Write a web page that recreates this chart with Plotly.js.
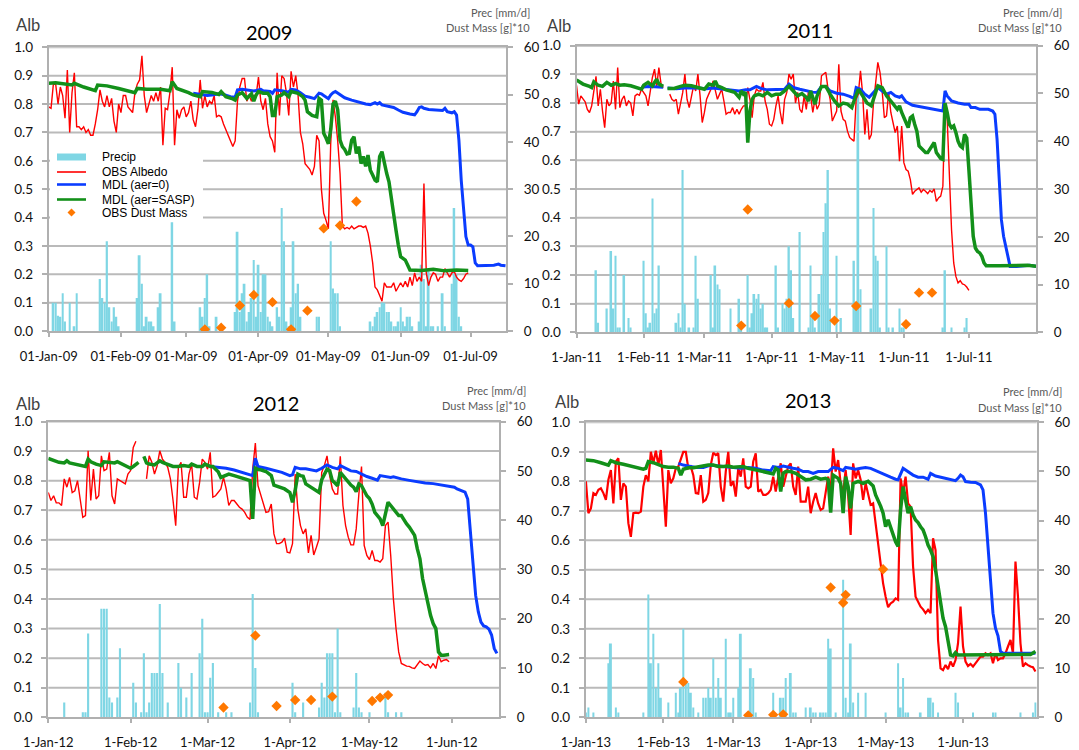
<!DOCTYPE html>
<html><head><meta charset="utf-8">
<script src="https://cdn.plot.ly/plotly-3.0.1.min.js"></script>
<style>html,body{margin:0;padding:0;background:#fff;} #chart{width:1079px;height:750px;}</style>
</head><body><div id="chart"></div>
<script>
// ===================== DATA =====================
// Daily observed albedo (index = day offset from 1 Jan)
const obs2009 = [0.79,0.785,0.87,0.87,0.80,0.86,0.83,0.75,0.92,0.70,
0.84,0.91,0.72,0.72,0.71,0.72,0.70,0.71,0.69,0.69,
0.73,0.78,0.85,0.81,0.79,0.83,0.79,0.82,0.74,0.70,
0.80,0.77,0.83,0.83,0.79,0.78,0.77,0.84,0.87,0.885,
0.97,0.83,0.77,0.80,0.83,0.81,0.84,0.81,0.86,0.655,
0.785,0.78,0.84,0.93,0.655,0.78,0.75,0.78,0.79,0.755,
0.77,0.81,0.745,0.72,0.78,0.885,0.785,0.83,0.79,0.81,
0.80,0.83,0.755,0.76,0.755,0.73,0.71,0.69,0.67,0.65,
0.67,0.81,0.86,0.89,0.89,0.81,0.83,0.81,0.83,0.83,
0.895,0.81,0.78,0.82,0.73,0.685,0.67,0.63,0.91,0.76,
0.90,0.89,0.84,0.76,0.915,0.86,0.90,0.83,0.70,0.66,
0.59,0.58,0.57,0.55,0.58,0.69,0.67,0.50,0.415,0.39,
0.36,0.66,0.815,0.755,0.67,0.555,0.37,0.36,0.365,0.36,
0.37,0.36,0.365,0.37,0.37,0.365,0.37,0.345,0.30,0.24,
0.155,0.145,0.125,0.105,0.17,0.155,0.155,0.155,0.17,0.14,
0.155,0.17,0.155,0.175,0.155,0.19,0.16,0.205,0.175,0.19,
0.175,0.52,0.205,0.16,0.19,0.205,0.20,0.175,0.19,0.19,
0.22,0.205,0.19,0.205,0.21,0.19,0.18,0.175,0.185,0.20,
0.205];
const obs2011 = [0.862,0.796,0.825,0.813,0.804,0.778,0.767,0.79,0.837,0.893,
0.79,0.848,0.772,0.714,0.813,0.79,0.80,0.877,0.778,0.924,
0.784,0.813,0.825,0.79,0.807,0.80,0.755,0.825,0.831,0.827,
0.848,0.837,0.825,0.79,0.842,0.889,0.918,0.86,0.924,0.866,
0.854,null,null,0.831,0.813,0.807,0.813,0.761,0.80,0.837,
0.901,0.813,0.784,0.825,0.86,0.842,0.901,0.825,0.732,0.767,
0.813,0.831,0.848,0.877,0.842,0.813,0.831,0.848,0.807,0.761,
0.767,0.767,0.784,0.761,0.778,0.761,0.778,0.79,0.79,0.854,
0.813,0.749,0.825,0.848,0.842,0.842,0.872,0.807,0.778,0.726,
0.72,0.743,0.79,0.825,0.767,0.726,0.813,0.837,0.901,0.883,
0.901,0.80,0.837,0.778,0.767,0.825,0.778,0.842,0.825,0.767,
0.813,0.778,0.796,0.895,0.901,0.907,0.851,0.813,0.737,0.755,
0.772,0.935,0.772,0.743,0.737,0.702,0.68,0.673,0.667,0.813,
0.831,0.912,0.831,0.69,0.778,0.673,0.69,0.80,0.877,0.942,
0.907,0.842,0.749,0.755,0.837,0.767,0.732,0.697,0.72,0.597,
0.72,0.592,0.568,0.562,0.533,0.481,0.492,0.498,0.504,0.489,
0.498,0.492,0.484,0.495,0.489,0.50,0.457,0.469,0.475,0.51,
0.80,0.743,0.557,0.358,0.242,0.195,0.172,0.18,0.169,0.166,
0.158,0.146];
const obs2012 = [0.76,0.733,0.749,0.725,0.725,0.716,0.806,0.778,0.811,0.76,
0.766,0.80,0.738,0.676,0.682,0.901,0.733,0.839,0.738,0.749,
0.884,0.834,0.839,0.896,0.749,0.721,0.806,0.80,0.794,0.789,
0.822,0.834,0.912,0.933,null,null,null,0.806,0.884,0.862,
0.822,0.85,0.901,0.873,0.862,0.845,0.806,0.733,0.648,0.845,
0.862,0.744,0.744,0.822,0.856,0.744,0.738,0.794,0.873,0.862,
0.839,0.896,0.744,0.749,0.76,0.772,0.811,0.772,0.716,0.733,
0.733,0.721,0.71,0.704,0.693,0.676,0.669,0.839,0.927,0.783,
0.755,0.727,0.693,0.695,0.721,0.62,0.587,0.587,0.592,0.606,
0.558,0.556,0.587,0.822,0.704,0.648,0.62,0.637,0.556,0.615,
0.549,0.575,0.603,0.828,0.851,0.884,0.817,0.772,0.755,0.755,
0.882,0.716,0.648,0.609,0.583,0.583,0.637,0.755,0.848,0.581,
0.547,0.533,0.564,0.53,0.53,0.525,0.536,0.648,0.66,0.547,
0.401,0.30,0.221,0.182,0.176,0.173,0.172,0.167,0.165,0.176,
0.19,0.182,0.176,0.178,0.167,0.182,0.165,0.208,0.188,0.193,
0.195,0.188];
const obs2013 = [0.80,0.692,0.708,0.76,0.754,0.771,0.776,0.76,0.737,0.805,
0.838,0.725,0.867,0.878,0.737,0.793,0.782,0.658,0.612,0.692,
0.694,0.692,0.697,0.782,0.821,0.80,0.90,0.861,0.904,0.855,
0.906,0.765,0.646,0.838,0.793,0.81,0.844,0.85,0.872,0.90,
0.90,0.844,0.85,0.821,0.76,0.758,0.821,0.731,0.737,0.76,
0.855,0.897,0.889,0.895,0.782,0.731,0.833,0.90,0.784,0.80,
0.748,0.844,0.816,0.878,0.782,0.776,0.782,0.867,0.895,0.765,
0.771,0.754,0.754,0.76,0.771,0.816,0.765,0.821,0.861,0.782,
0.816,0.85,0.861,0.782,0.754,0.85,0.731,0.731,0.731,0.782,
0.692,0.731,0.76,0.725,0.703,0.708,0.771,0.816,0.765,0.912,
0.833,0.872,0.793,0.76,0.838,0.754,0.618,0.861,0.81,0.838,
0.805,0.737,0.793,0.754,0.72,0.725,0.652,0.59,0.511,0.454,
0.409,0.373,0.386,0.392,0.403,0.398,0.81,0.76,0.816,0.725,
0.714,0.511,0.409,0.392,0.375,0.366,0.353,0.364,0.353,0.607,
0.567,0.262,0.166,0.16,0.177,0.163,0.189,0.172,0.194,0.251,
0.375,0.24,0.189,0.174,0.181,0.172,0.183,0.194,0.206,0.206,
0.217,0.211,0.217,0.183,0.217,0.194,0.2,0.2,0.217,0.24,
0.262,0.217,0.528,0.409,0.251,0.172,0.183,0.177,0.172,0.17,
0.155];

// Modelled albedo, [day offset, albedo]
const sasp2009 = [[0,0.873],[3,0.875],[10,0.867],[11,0.873],[15,0.86],[20,0.847],[21,0.867],[25,0.864],[30,0.855],[35,0.844],[37,0.84],[38,0.855],[42,0.852],[48,0.852],[52,0.847],[53,0.879],[55,0.855],[60,0.84],[62,0.832],[65,0.826],[66,0.844],[70,0.841],[73,0.834],[74,0.844],[76,0.826],[79,0.818],[80,0.814],[81,0.832],[83,0.84],[85,0.82],[87,0.836],[88,0.81],[89,0.832],[90,0.844],[92,0.838],[94,0.838],[95,0.826],[96,0.76],[97,0.76],[98,0.826],[100,0.832],[101,0.84],[103,0.826],[104,0.844],[106,0.84],[107,0.838],[109,0.826],[110,0.814],[111,0.773],[113,0.76],[115,0.755],[116,0.82],[117,0.814],[118,0.697],[119,0.68],[120,0.66],[121,0.71],[122,0.80],[123,0.81],[124,0.78],[125,0.673],[126,0.65],[127,0.64],[128,0.624],[129,0.626],[130,0.673],[131,0.685],[132,0.626],[133,0.65],[134,0.59],[135,0.615],[136,0.58],[137,0.62],[138,0.567],[139,0.55],[140,0.532],[141,0.526],[142,0.615],[143,0.632],[144,0.59],[145,0.556],[146,0.526],[147,0.462],[148,0.415],[149,0.356],[150,0.303],[151,0.262],[152,0.256],[153,0.25],[154,0.233],[155,0.215],[160,0.213],[165,0.218],[170,0.212],[175,0.215],[180,0.213]];
const mdl0_2009 = [[62,0.838],[65,0.833],[68,0.83],[70,0.832],[73,0.836],[75,0.834],[78,0.826],[80,0.824],[81,0.85],[83,0.852],[86,0.847],[88,0.846],[90,0.85],[91,0.852],[92,0.847],[95,0.844],[96,0.838],[97,0.85],[100,0.847],[103,0.842],[104,0.852],[106,0.85],[108,0.84],[110,0.828],[112,0.824],[114,0.819],[116,0.838],[117,0.836],[118,0.83],[120,0.819],[121,0.832],[122,0.84],[123,0.844],[125,0.832],[127,0.822],[130,0.814],[133,0.806],[136,0.80],[138,0.798],[140,0.805],[141,0.80],[142,0.805],[143,0.797],[145,0.793],[147,0.79],[148,0.788],[150,0.779],[152,0.771],[155,0.765],[157,0.762],[158,0.773],[159,0.788],[160,0.79],[161,0.785],[163,0.781],[166,0.779],[169,0.777],[170,0.785],[171,0.773],[173,0.769],[174,0.773],[175,0.761],[176,0.673],[177,0.532],[178,0.415],[179,0.333],[180,0.303],[181,0.303],[182,0.297],[183,0.24],[184,0.23],[188,0.23],[191,0.232],[193,0.236],[194,0.232],[196,0.23]];
const sasp2011 = [[0,0.88],[3,0.866],[6,0.858],[7,0.854],[8,0.874],[10,0.862],[12,0.858],[14,0.872],[16,0.862],[18,0.868],[20,0.862],[22,0.864],[25,0.86],[28,0.854],[30,0.848],[31,0.862],[33,0.872],[35,0.86],[37,0.883],[38,0.866],[40,0.858],[41,null],[42,0.851],[45,0.851],[48,0.858],[50,0.862],[53,0.86],[56,0.854],[59,0.848],[61,0.866],[63,0.862],[64,0.877],[65,0.86],[67,0.854],[69,0.846],[71,0.842],[73,0.837],[75,0.82],[76,0.842],[77,0.831],[78,0.837],[79,0.662],[80,0.772],[81,0.813],[82,0.825],[84,0.831],[86,0.825],[88,0.837],[90,0.825],[92,0.831],[94,0.831],[96,0.842],[98,0.858],[100,0.842],[102,0.825],[104,0.833],[106,0.82],[107,0.807],[108,0.842],[110,0.796],[111,0.825],[113,0.858],[115,0.858],[117,0.831],[119,0.807],[121,0.79],[123,0.80],[125,0.796],[127,0.784],[128,0.807],[130,0.848],[132,0.825],[134,0.80],[136,0.79],[138,0.842],[139,0.86],[141,0.854],[143,0.825],[145,0.807],[147,0.784],[148,0.778],[149,0.79],[150,0.767],[152,0.732],[153,0.714],[154,0.749],[155,0.755],[156,0.726],[157,0.702],[158,0.65],[159,0.641],[160,0.635],[161,0.627],[162,0.627],[163,0.638],[164,0.65],[165,0.662],[166,0.627],[167,0.615],[168,0.606],[169,0.603],[170,0.80],[171,0.767],[172,0.726],[173,0.714],[174,0.72],[175,0.697],[176,0.667],[177,0.65],[178,0.644],[179,0.69],[180,0.678],[181,0.568],[182,0.44],[183,0.335],[184,0.294],[185,0.282],[186,0.277],[187,0.265],[188,0.242],[189,0.232],[195,0.232],[200,0.233],[205,0.232],[208,0.234],[212,0.23]];
const mdl0_2011 = [[30,0.855],[33,0.858],[36,0.857],[40,0.855],[41,null],[42,0.852],[46,0.85],[50,0.852],[55,0.853],[60,0.85],[63,0.852],[66,0.85],[70,0.846],[73,0.842],[75,0.842],[78,0.846],[80,0.846],[83,0.858],[85,0.851],[88,0.846],[90,0.846],[93,0.846],[96,0.848],[98,0.866],[100,0.854],[103,0.848],[106,0.842],[109,0.838],[111,0.837],[113,0.858],[115,0.858],[117,0.842],[120,0.834],[123,0.831],[126,0.823],[128,0.816],[129,0.854],[131,0.848],[133,0.831],[135,0.82],[137,0.837],[139,0.854],[141,0.842],[143,0.831],[145,0.837],[147,0.825],[149,0.82],[150,0.825],[152,0.804],[155,0.792],[158,0.788],[161,0.783],[164,0.778],[167,0.775],[169,0.772],[170,0.842],[171,0.825],[173,0.807],[176,0.80],[179,0.796],[181,0.796],[182,0.784],[184,0.784],[186,0.778],[188,0.778],[190,0.778],[192,0.772],[193,0.761],[194,0.673],[195,0.533],[196,0.393],[197,0.335],[198,0.30],[199,0.271],[200,0.23],[203,0.23],[206,0.232],[209,0.234],[212,0.23]];
const sasp2012 = [[0,0.875],[2,0.867],[4,0.862],[6,0.86],[7,0.867],[8,0.86],[10,0.855],[12,0.853],[14,0.848],[15,0.873],[16,0.864],[18,0.856],[20,0.851],[21,0.864],[23,0.862],[25,0.86],[26,0.864],[28,0.856],[30,0.848],[31,0.842],[32,0.848],[33,0.856],[34,0.862],[35,null],[36,0.882],[37,0.86],[38,0.856],[40,0.853],[41,0.86],[42,0.867],[43,0.862],[45,0.856],[47,0.848],[49,0.848],[51,0.851],[53,0.848],[54,0.856],[56,0.848],[58,0.848],[59,0.856],[61,0.848],[62,0.848],[64,0.83],[65,0.811],[67,0.819],[68,0.822],[70,0.817],[72,0.811],[74,0.808],[76,0.80],[77,0.671],[78,0.842],[79,0.838],[80,0.837],[82,0.831],[84,0.817],[85,0.785],[87,0.778],[89,0.772],[91,0.76],[92,0.727],[93,0.766],[94,0.822],[95,0.817],[96,0.815],[97,0.789],[99,0.778],[101,0.766],[102,0.76],[103,0.803],[104,0.822],[105,0.839],[106,0.834],[107,0.80],[108,0.792],[109,0.783],[110,0.828],[111,0.817],[112,0.806],[113,0.794],[114,0.785],[115,0.778],[116,0.763],[117,0.789],[118,0.783],[119,0.766],[120,0.749],[121,0.74],[122,0.721],[123,0.693],[124,0.682],[125,0.671],[126,0.648],[127,0.693],[128,0.727],[129,0.716],[130,0.704],[131,0.693],[132,0.682],[133,0.682],[134,0.665],[135,0.654],[136,0.643],[137,0.631],[138,0.615],[139,0.57],[140,0.536],[141,0.469],[142,0.424],[143,0.379],[144,0.345],[145,0.317],[146,0.30],[147,0.221],[148,0.21],[149,0.21],[150,0.21],[151,0.212]];
const mdl0_2012 = [[61,0.848],[64,0.845],[67,0.842],[70,0.836],[73,0.828],[76,0.822],[77,0.817],[78,0.876],[79,0.848],[82,0.842],[85,0.836],[88,0.828],[91,0.817],[92,0.82],[93,0.845],[95,0.84],[97,0.84],[99,0.836],[101,0.833],[103,0.842],[105,0.853],[107,0.845],[109,0.84],[110,0.851],[112,0.842],[114,0.833],[116,0.831],[118,0.822],[120,0.814],[122,0.808],[124,0.802],[125,0.817],[127,0.815],[129,0.811],[130,0.813],[132,0.808],[133,0.806],[136,0.801],[139,0.796],[142,0.792],[145,0.79],[148,0.786],[151,0.781],[153,0.778],[154,0.772],[156,0.766],[157,0.761],[158,0.738],[159,0.637],[160,0.513],[161,0.412],[162,0.356],[163,0.322],[164,0.309],[165,0.306],[166,0.298],[167,0.278],[168,0.233],[169,0.216]];
const sasp2013 = [[0,0.872],[3,0.87],[6,0.863],[9,0.855],[10,0.87],[12,0.863],[15,0.858],[18,0.852],[21,0.846],[23,0.841],[24,0.844],[25,0.867],[27,0.863],[29,0.855],[31,0.85],[33,0.848],[35,0.848],[37,0.844],[38,0.821],[39,0.841],[41,0.846],[43,0.846],[45,0.85],[47,0.852],[49,0.855],[51,0.855],[53,0.85],[55,0.85],[57,0.852],[59,0.848],[61,0.848],[63,0.85],[65,0.844],[67,0.841],[69,0.836],[71,0.833],[73,0.829],[75,0.825],[76,0.844],[77,0.838],[78,0.765],[79,0.827],[80,0.833],[82,0.833],[84,0.827],[86,0.816],[88,0.805],[90,0.807],[92,0.814],[94,0.807],[96,0.81],[97,0.805],[98,0.694],[99,0.821],[100,0.815],[101,0.81],[102,0.793],[103,0.692],[104,0.816],[105,0.782],[106,0.708],[107,0.793],[109,0.80],[111,0.793],[113,0.80],[115,0.784],[116,0.754],[117,0.737],[118,0.716],[119,0.692],[120,0.646],[121,0.669],[122,0.641],[123,0.618],[124,0.595],[125,0.579],[126,0.703],[127,0.782],[128,0.737],[129,0.692],[130,0.714],[131,0.686],[132,0.669],[133,0.66],[134,0.646],[135,0.635],[136,0.612],[137,0.584],[138,0.567],[139,0.545],[140,0.499],[141,0.443],[142,0.386],[143,0.336],[144,0.307],[145,0.262],[146,0.211],[147,0.208],[148,0.219],[149,0.211],[150,0.211],[155,0.213],[160,0.213],[165,0.212],[170,0.213],[175,0.213],[178,0.213],[180,0.223]];
const mdl0_2013 = [[37,0.861],[39,0.855],[41,0.852],[44,0.847],[47,0.847],[50,0.855],[53,0.852],[56,0.85],[59,0.847],[62,0.844],[65,0.847],[68,0.844],[71,0.838],[74,0.836],[75,0.85],[77,0.847],[79,0.852],[81,0.847],[83,0.844],[85,0.841],[87,0.833],[89,0.833],[91,0.827],[93,0.833],[95,0.833],[97,0.833],[99,0.847],[101,0.844],[103,0.836],[104,0.847],[106,0.844],[108,0.841],[110,0.844],[112,0.847],[114,0.844],[116,0.836],[118,0.829],[120,0.822],[122,0.814],[124,0.807],[125,0.805],[127,0.844],[129,0.833],[131,0.821],[133,0.814],[135,0.814],[137,0.807],[138,0.827],[140,0.818],[142,0.814],[144,0.81],[146,0.807],[148,0.802],[149,0.81],[150,0.821],[151,0.815],[152,0.799],[154,0.797],[156,0.796],[158,0.788],[159,0.771],[160,0.692],[161,0.567],[162,0.454],[163,0.353],[164,0.302],[165,0.276],[166,0.223],[167,0.217],[170,0.217],[175,0.217],[180,0.217]];

// Precipitation [mm/d], [day offset, value]
const prec2009 = [[2,6],[3,6],[4,3.2],[5,3],[6,8],[7,2],[9,6],[11,1],[12,8],[22,11],[23,7],[24,6],[25,19],[26,5],[27,2],[28,5],[29,3],[30,1],[38,7],[39,16],[40,10],[41,1],[42,3],[43,2],[44,2],[45,1],[47,5],[48,8],[53,23],[54,2],[65,5],[66,3],[67,7],[68,12],[69,1],[72,3],[80,4],[81,21],[82,4],[83,8],[84,10],[85,2],[86,4],[87,7],[88,15],[89,3],[90,14],[91,4],[92,12],[93,12],[94,3],[95,2],[96,1],[98,5],[99,3],[100,26],[101,19],[102,2],[103,1],[104,5],[105,19],[106,8],[107,10],[108,3],[115,3],[116,3],[121,19],[122,9],[123,8],[124,8],[125,1],[138,2],[139,1],[140,3],[141,4],[142,5],[143,6],[144,6],[145,4],[146,4],[147,2],[148,1],[149,1],[150,2],[151,5],[152,2],[153,1],[154,3],[155,3],[156,1],[159,2],[160,14],[161,11],[162,1],[163,13],[164,1],[165,1],[167,1],[169,8],[170,1],[173,10],[174,26],[175,12],[176,3],[177,1]];
const prec2011 = [[9,13],[10,2],[14,5],[16,17],[17,5],[18,16],[19,1],[20,1],[22,12],[24,3],[25,1],[31,15],[32,4],[33,1],[34,2],[35,28],[36,4],[37,5],[38,14],[46,2],[47,4],[48,1],[49,34],[50,6],[52,1],[54,1],[55,16],[56,7],[62,12],[63,1],[64,14],[65,10],[66,9],[71,5],[75,7],[76,1],[79,12],[80,1],[81,4],[82,8],[83,7],[84,8],[85,5],[86,6],[87,1],[88,1],[92,14],[93,1],[95,6],[96,5],[97,7],[98,18],[99,13],[100,3],[103,21],[107,1],[108,14],[109,3],[110,1],[112,8],[113,12],[114,21],[115,27],[116,34],[117,5],[120,16],[122,3],[128,15],[129,5],[130,50],[131,9],[136,5],[137,26],[138,16],[139,15],[140,1],[143,18],[144,1],[146,1],[149,5],[150,1],[151,1],[169,1],[170,13],[173,1],[179,1],[180,3]];
const prec2012 = [[6,3],[13,1],[14,1],[15,17],[20,22],[21,22],[22,22],[23,4],[24,3],[26,4],[27,14],[32,7],[33,3],[35,1],[36,13],[37,1],[38,3],[39,9],[40,9],[41,9],[42,23],[43,9],[45,3],[49,11],[50,6],[52,4],[54,9],[57,13],[58,20],[59,1],[60,1],[61,8],[62,11],[64,1],[67,1],[69,1],[76,3],[77,25],[78,10],[79,1],[92,7],[93,1],[96,3],[102,2],[103,7],[104,4],[105,13],[106,13],[107,13],[108,1],[109,18],[110,1],[115,2],[116,9],[117,2],[118,1],[121,1],[127,5],[128,1],[131,1],[133,1]];
const prec2013 = [[0,1],[1,2],[3,1],[9,11],[10,15],[12,2],[13,1],[23,1],[25,25],[26,11],[27,17],[28,6],[29,11],[30,4],[33,3],[36,5],[37,1],[38,6],[39,18],[40,7],[41,7],[42,5],[43,2],[45,1],[47,4],[48,4],[49,6],[50,4],[51,12],[52,4],[53,8],[54,4],[56,16],[57,1],[58,1],[59,4],[61,6],[62,17],[65,1],[66,10],[67,8],[68,1],[75,5],[78,4],[79,4],[80,8],[82,9],[83,1],[84,1],[88,2],[90,2],[91,1],[92,1],[94,1],[95,1],[96,1],[97,16],[98,14],[100,1],[103,28],[104,4],[105,1],[106,15],[107,3],[109,5],[112,5],[120,1],[125,11],[126,2],[127,8],[128,1],[129,1],[134,1],[137,4],[138,4],[139,3],[141,1],[148,5],[149,3],[155,1],[163,1],[164,1],[174,1],[179,1],[180,3]];

// Observed dust mass [g]*10, [day offset, value]
const dust2009 = [[67,0.35],[74,0.7],[82,5.4],[88,7.6],[96,6.1],[104,0.35],[111,4.3],[118,21.7],[125,22.3],[132,27.4]];
const dust2011 = [[76,1.4],[79,25.7],[98,6.1],[110,3.4],[119,2.45],[129,5.5],[152,1.7],[158,8.3],[164,8.3]];
const dust2012 = [[66,2.0],[78,16.6],[86,2.3],[93,3.5],[99,3.5],[107,4.2],[122,3.3],[125,4.0],[128,4.5]];
const dust2013 = [[39,7.2],[65,0.4],[75,0.5],[79,0.6],[98,26.4],[103,23.3],[104,24.9],[119,30.1]];

const panelYears = [2009, 2011, 2012, 2013];
const seriesNames = ['Precip','OBS Albedo','MDL (aer=0)','MDL (aer=SASP)','OBS Dust Mass'];
const albGridValues = [0.1,0.2,0.3,0.4,0.5,0.6,0.7,0.8,0.9,1.0];
const axisTitleLeft = 'Alb';
const axisTitleRight = ['Prec [mm/d]','Dust Mass [g]*10'];

// ===================== BUILD =====================
const W = 1079, H = 750;
const px = x => x / W, py = y => 1 - y / H;
function dt(year, day) {
  const d = new Date(Date.UTC(year, 0, 1) + Math.round(day * 86400000));
  return d.toISOString().slice(0, 19).replace('T', ' ');
}
const fromDaily = (year, vals) => ({x: vals.map((v, i) => dt(year, i)), y: vals});
const fromPairs = (year, arr) => ({x: arr.map(p => dt(year, p[0])), y: arr.map(p => p[1])});

const data = [
  {obs: obs2009, mdl0: mdl0_2009, sasp: sasp2009, prec: prec2009, dust: dust2009},
  {obs: obs2011, mdl0: mdl0_2011, sasp: sasp2011, prec: prec2011, dust: dust2011},
  {obs: obs2012, mdl0: mdl0_2012, sasp: sasp2012, prec: prec2012, dust: dust2012},
  {obs: obs2013, mdl0: mdl0_2013, sasp: sasp2013, prec: prec2013, dust: dust2013}
];

const geom = [
  {x:[48.7,506], y:[47.3,331], end:'2009-07-16 05:00', fmt:'%d-%b-%y', title:[269,32], alb:[13.5,25], prec:[532,13,28], red:1.4},
  {x:[576.5,1036], y:[45.7,332.3], end:'2011-07-31 23:00', fmt:'%-d-%b-%y', title:[810,30], alb:[544.5,26], prec:[1064,12,27], red:1.4},
  {x:[48.3,499], y:[421.5,717.3], end:'2012-06-18 19:00', fmt:'%-d-%b-%y', title:[276,403], alb:[13.5,404], prec:[528,390,405], red:1.4},
  {x:[585.9,1036.7], y:[422.3,717.3], end:'2013-06-30 12:00', fmt:'%-d-%b-%y', title:[808,400], alb:[553,402], prec:[1064,392,407], red:2.2}
];

const C = {prec:'#7fd6e4', red:'#ff0000', blue:'#0a3cff', green:'#13901a', dust:'#ff7800', grid:'#bababa', axis:'#b0b0b0'};
const tickFont = {family:'Lato, "Liberation Sans", sans-serif', size:13.5, color:'#111'};
const xTickFont = {family:'Lato, "Liberation Sans", sans-serif', size:13, color:'#111'};

const traces = [];
const layout = {
  width: W, height: H, margin: {l:0, r:0, t:0, b:0},
  paper_bgcolor: '#ffffff', plot_bgcolor: 'rgba(0,0,0,0)', showlegend: false,
  annotations: [], shapes: [], font: {family:'Lato, sans-serif'}
};

panelYears.forEach((year, k) => {
  const g = geom[k], d = data[k];
  const xs = k === 0 ? '' : String(k + 1);
  const nB = 3 * k + 1, nA = 3 * k + 2, nD = 3 * k + 3;
  const yid = n => 'y' + (n === 1 ? '' : n);
  const ykey = n => 'yaxis' + (n === 1 ? '' : n);
  const xid = 'x' + xs;

  layout['xaxis' + xs] = {
    domain: [px(g.x[0]), px(g.x[1])], anchor: yid(nB), type: 'date',
    range: [year + '-01-01', g.end], tick0: year + '-01-01', dtick: 'M1',
    tickformat: g.fmt, tickangle: 0, ticks: 'outside', ticklen: 4, tickcolor: C.axis, tickwidth: 1.5,
    showline: true, linecolor: C.axis, linewidth: 2, mirror: true, showgrid: false, zeroline: false,
    tickfont: xTickFont, ticklabelstandoff: 8, fixedrange: true
  };
  layout[ykey(nB)] = {
    domain: [py(g.y[1]), py(g.y[0])], anchor: xid, side: 'right', range: [0, 60],
    tick0: 0, dtick: 10, showgrid: false, zeroline: false, showline: true, linecolor: C.axis, linewidth: 2,
    ticks: 'outside', ticklen: 5, tickcolor: C.axis, tickwidth: 1.5, tickfont: tickFont, ticklabelstandoff: 8, fixedrange: true
  };
  layout[ykey(nA)] = {
    overlaying: yid(nB), anchor: xid, side: 'left', range: [0, 1], tick0: 0, dtick: 0.1,
    tickformat: '.1f', showgrid: false, zeroline: false,
    showline: true, linecolor: C.axis, linewidth: 2, ticks: 'outside', ticklen: 5, tickcolor: C.axis, tickwidth: 1.5,
    tickfont: tickFont, ticklabelstandoff: 6, fixedrange: true
  };
  layout[ykey(nD)] = {overlaying: yid(nB), anchor: xid, range: [0, 60], visible: false, fixedrange: true};

  // horizontal albedo gridlines, placed on the albedo axis
  albGridValues.forEach(v => layout.shapes.push({type:'line', xref: xid + ' domain', yref: yid(nA),
    x0: 0, x1: 1, y0: v, y1: v, line: {color: C.grid, width: 2}, layer: 'below'}));

  const p = fromPairs(year, d.prec);
  traces.push({type:'bar', name: seriesNames[0], x: p.x, y: p.y, width: 0.8 * 86400000,
    marker: {color: C.prec, line: {width: 0}}, xaxis: xid, yaxis: yid(nB), hoverinfo: 'skip'});
  const o = fromDaily(year, d.obs);
  traces.push({type:'scatter', mode:'lines', name: seriesNames[1], x: o.x, y: o.y, connectgaps: false,
    line: {color: C.red, width: g.red}, xaxis: xid, yaxis: yid(nA), hoverinfo: 'skip'});
  const b = fromPairs(year, d.mdl0);
  traces.push({type:'scatter', mode:'lines', name: seriesNames[2], x: b.x, y: b.y, connectgaps: false,
    line: {color: C.blue, width: 3}, xaxis: xid, yaxis: yid(nA), hoverinfo: 'skip'});
  const s = fromPairs(year, d.sasp);
  traces.push({type:'scatter', mode:'lines', name: seriesNames[3], x: s.x, y: s.y, connectgaps: false,
    line: {color: C.green, width: 3.5}, xaxis: xid, yaxis: yid(nA), hoverinfo: 'skip'});
  const du = fromPairs(year, d.dust);
  traces.push({type:'scatter', mode:'markers', name: seriesNames[4], x: du.x, y: du.y,
    marker: {symbol: 'diamond', size: 8, color: C.dust}, xaxis: xid, yaxis: yid(nD), hoverinfo: 'skip'});

  // texts
  layout.annotations.push({text: String(year), xref:'paper', yref:'paper', x: px(g.title[0]), y: py(g.title[1]),
    xanchor:'center', yanchor:'middle', showarrow:false, font:{family:'Lato, sans-serif', size:20, color:'#000'}});
  layout.annotations.push({text: axisTitleLeft, xref:'paper', yref:'paper', x: px(g.alb[0]), y: py(g.alb[1]),
    xanchor:'left', yanchor:'middle', showarrow:false, font:{family:'Lato, sans-serif', size:16.5, color:'#404040'}});
  layout.annotations.push({text: axisTitleRight[0], xref:'paper', yref:'paper', x: px(g.prec[0]), y: py(g.prec[1]),
    xanchor:'right', yanchor:'middle', showarrow:false, font:{family:'Lato, sans-serif', size:11, color:'#595959'}});
  layout.annotations.push({text: axisTitleRight[1], xref:'paper', yref:'paper', x: px(g.prec[0]), y: py(g.prec[2]),
    xanchor:'right', yanchor:'middle', showarrow:false, font:{family:'Lato, sans-serif', size:11, color:'#595959'}});
});

// Legend (panel 2009), drawn as a boxed key with real text
(function legend() {
  const box = {l: 50, r: 203, t: 147, b: 219};
  const sx0 = 57, sx1 = 86, tx = 100;
  const rows = [157, 172, 184.5, 199.5, 212.5];
  layout.shapes.push({type:'rect', xref:'paper', yref:'paper', x0: px(box.l), x1: px(box.r), y0: py(box.b), y1: py(box.t),
    fillcolor:'#fff', line:{width:0}, layer:'above'});
  layout.shapes.push({type:'rect', xref:'paper', yref:'paper', x0: px(sx0), x1: px(sx1), y0: py(rows[0] + 3.5), y1: py(rows[0] - 3.5),
    fillcolor: C.prec, line:{width:0}, layer:'above'});
  const lineCols = [C.red, C.blue, C.green], lineW = [1.6, 2.6, 2.6];
  [1, 2, 3].forEach((r, i) => layout.shapes.push({type:'line', xref:'paper', yref:'paper', x0: px(sx0), x1: px(sx1),
    y0: py(rows[r]), y1: py(rows[r]), line:{color: lineCols[i], width: lineW[i]}, layer:'above'}));
  const cx = (sx0 + sx1) / 2, cy = rows[4], r = 4;
  layout.shapes.push({type:'path', xref:'paper', yref:'paper',
    path: `M ${px(cx)} ${py(cy - r)} L ${px(cx + r)} ${py(cy)} L ${px(cx)} ${py(cy + r)} L ${px(cx - r)} ${py(cy)} Z`,
    fillcolor: C.dust, line:{width:0}, layer:'above'});
  seriesNames.forEach((nm, i) => layout.annotations.push({text: nm, xref:'paper', yref:'paper', x: px(tx), y: py(rows[i]),
    xanchor:'left', yanchor:'middle', showarrow:false, font:{family:'"Liberation Sans", Arial, sans-serif', size:12, color:'#000'}}));
})();

Plotly.newPlot('chart', traces, layout, {displayModeBar: false});
</script></body></html>
